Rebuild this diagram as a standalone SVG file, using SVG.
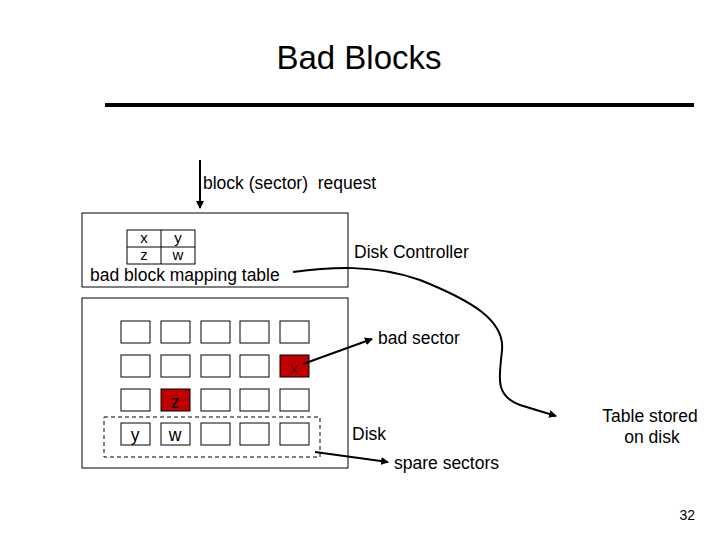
<svg xmlns="http://www.w3.org/2000/svg" width="720" height="540" viewBox="0 0 720 540">
<style>
text{font-family:"Liberation Sans",Arial,sans-serif;fill:#000}
.b{fill:#fff;stroke:#000;stroke-width:1}
.s{fill:#fff;stroke:#000;stroke-width:1}
.r{fill:#c00000;stroke:#000;stroke-width:1}
.c{fill:none;stroke:#000;stroke-width:2}
.t{font-size:17.5px}
.m{font-size:17.5px;text-anchor:middle}
.k{font-size:15px;text-anchor:middle}
</style>
<defs><marker id="a" markerWidth="8" markerHeight="8" refX="7" refY="4" orient="auto" markerUnits="userSpaceOnUse"><path d="M0,0L8,4L0,8z" fill="#000"/></marker></defs>
<rect width="720" height="540" fill="#fff"/>
<text x="359" y="69" font-size="33" text-anchor="middle">Bad Blocks</text>
<line x1="105" y1="105" x2="694" y2="105" stroke="#000" stroke-width="4"/>
<g id="controller">
<rect class="b" x="82" y="213" width="266" height="74"/>
<rect class="b" x="127" y="230" width="68" height="34"/>
<line x1="161" y1="230" x2="161" y2="264" stroke="#000"/>
<line x1="127" y1="247" x2="195" y2="247" stroke="#000"/>
<text class="k" x="144" y="243">x</text><text class="k" x="178" y="243">y</text>
<text class="k" x="144" y="260">z</text><text class="k" x="178" y="260">w</text>
<text class="t" x="90" y="281">bad block mapping table</text>
<text class="t" x="354" y="258">Disk Controller</text>
</g>
<g id="disk">
<rect class="b" x="82" y="298" width="266" height="170"/>
<rect class="s" x="121" y="321" width="29" height="22"/><rect class="s" x="161" y="321" width="29" height="22"/><rect class="s" x="201" y="321" width="29" height="22"/><rect class="s" x="240" y="321" width="29" height="22"/><rect class="s" x="280" y="321" width="29" height="22"/>
<rect class="s" x="121" y="355" width="29" height="22"/><rect class="s" x="161" y="355" width="29" height="22"/><rect class="s" x="201" y="355" width="29" height="22"/><rect class="s" x="240" y="355" width="29" height="22"/><rect class="r" x="280" y="355" width="29" height="22"/>
<rect class="s" x="121" y="389" width="29" height="22"/><rect class="r" x="161" y="389" width="29" height="22"/><rect class="s" x="201" y="389" width="29" height="22"/><rect class="s" x="240" y="389" width="29" height="22"/><rect class="s" x="280" y="389" width="29" height="22"/>
<rect class="s" x="121" y="423" width="29" height="22"/><rect class="s" x="161" y="423" width="29" height="22"/><rect class="s" x="201" y="423" width="29" height="22"/><rect class="s" x="240" y="423" width="29" height="22"/><rect class="s" x="280" y="423" width="29" height="22"/>
<text x="294" y="374" font-size="16" text-anchor="middle" style="fill:#600">x</text>
<text class="m" x="175" y="408">z</text>
<text class="m" x="135" y="441">y</text>
<text class="m" x="175" y="441">w</text>
<rect x="104" y="417" width="216" height="40" fill="none" stroke="#000" stroke-dasharray="4,3"/>
<text class="t" x="352" y="440">Disk</text>
</g>
<g id="labels">
<text class="t" x="203" y="189" xml:space="preserve">block (sector)  request</text>
<text class="t" x="378" y="344">bad sector</text>
<text class="t" x="394" y="469">spare sectors</text>
<text class="t" x="650" y="422" text-anchor="middle">Table stored</text>
<text class="t" x="652" y="443" text-anchor="middle">on disk</text>
<text x="695" y="520" font-size="14" text-anchor="end">32</text>
</g>
<g id="connectors">
<line class="c" x1="200" y1="160" x2="200" y2="208" marker-end="url(#a)"/>
<path class="c" d="M293,272 C330,267 375,264 420,280 C470,300 505,320 502,350 C500,375 493,395 520,405 L556,416" marker-end="url(#a)"/>
<line class="c" x1="303" y1="364" x2="372" y2="339" marker-end="url(#a)"/>
<line class="c" x1="315" y1="452" x2="388" y2="462" marker-end="url(#a)"/>
</g>
</svg>
